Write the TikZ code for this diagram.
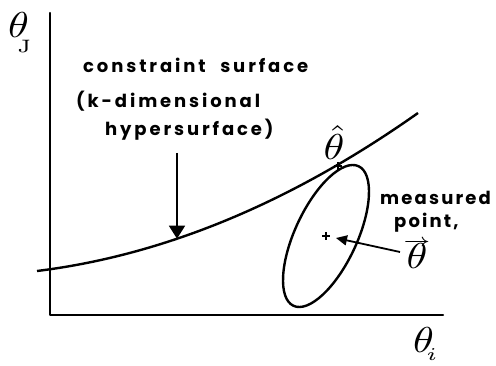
\documentclass[tikz,border=0pt]{standalone}
\usepackage{fontspec}
\newfontfamily\lettering[LetterSpace=16]{Poppins}
\newfontfamily\letteringnarrow[LetterSpace=12]{Poppins}
\usetikzlibrary{arrows.meta}
\newcommand{\bigsym}[1]{\scalebox{4.2}[3.6]{$#1$}}
\begin{document}
\begin{tikzpicture}[x=1pt,y=-1pt,
  axis/.style={line width=2.4pt, line cap=round, line join=round},
  curve/.style={line width=2.4pt},
  thin arrow/.style={line width=1.8pt},
  lbl/.style={font=\lettering\bfseries\fontsize{18}{22}\selectfont, inner sep=0pt, anchor=base west},
  lbln/.style={font=\letteringnarrow\bfseries\fontsize{18}{22}\selectfont, inner sep=0pt, anchor=base west},
  sym/.style={inner sep=0pt, anchor=base west},
  plusmark/.style={line width=2.2pt}
]
\useasboundingbox (0,0) rectangle (496,366);

% axes
\coordinate (ytop) at (50,13);
\coordinate (origin) at (50,315);
\coordinate (xend) at (443,315);
\draw[axis] (ytop) -- (origin) -- (xend);

% axis labels
\node[sym] (thJ) at (8,38) {\bigsym{\theta_{\kern-2.6pt\lower2.5pt\hbox{$\scriptscriptstyle\mathrm{J}$}}}};
\node[sym] (thi) at (413,353) {\bigsym{\theta_{\kern-1.6pt\lower0.6pt\hbox{$\scriptscriptstyle i$}}}};

% constraint surface curve
\coordinate (cstart) at (37,271);
\coordinate (cend) at (418,113);
\coordinate (cfoot) at (177,238.7);
\coordinate (tangent) at (338,166);
\draw[curve] (cstart) .. controls (164,255.3) and (291,202.7) .. (cend);

% ellipse
\coordinate (ctr) at (326,236);
\draw[curve, rotate around={65:(ctr)}] (ctr) ellipse [x radius=77, y radius=31];

% plus marks
\draw[plusmark] (tangent) +(-4,0) -- +(4,0) (tangent) +(0,-4) -- +(0,4);
\draw[plusmark] (ctr) +(-4,0) -- +(4,0) (ctr) +(0,-4) -- +(0,4);

% labels
\node[lbl] (cs1) at (83,73) {constraint\kern8pt\ surface};
\node[lbl] (cs2) at (76,108) {(k-dimensional};
\node[lbl] (cs3) at (105,136) {hypersurface)};
\node[lbln] (mp1) at (380,205) {measured};
\node[lbln] (mp2) at (394,228) {point,};

\node[sym, anchor=base] (thhat) at (334,160) {\bigsym{\hat{\theta}}};
\node[sym, anchor=base] (thvec) at (417,269) {\bigsym{\mathop{\kern0pt\theta}\limits^{\smash{\lower2.8pt\hbox{$\scriptscriptstyle\rightarrow$}}}}};

% arrows
\coordinate (ctop) at (177,153);
\draw[thin arrow, -{Triangle[width=16pt,length=13pt]}] (ctop) -- (cfoot);
\coordinate (mstart) at (400,252);
\coordinate (mtip) at (336,238);
\draw[thin arrow, -{Triangle[width=10pt,length=11pt]}] (mstart) -- (mtip);
\end{tikzpicture}
\end{document}
